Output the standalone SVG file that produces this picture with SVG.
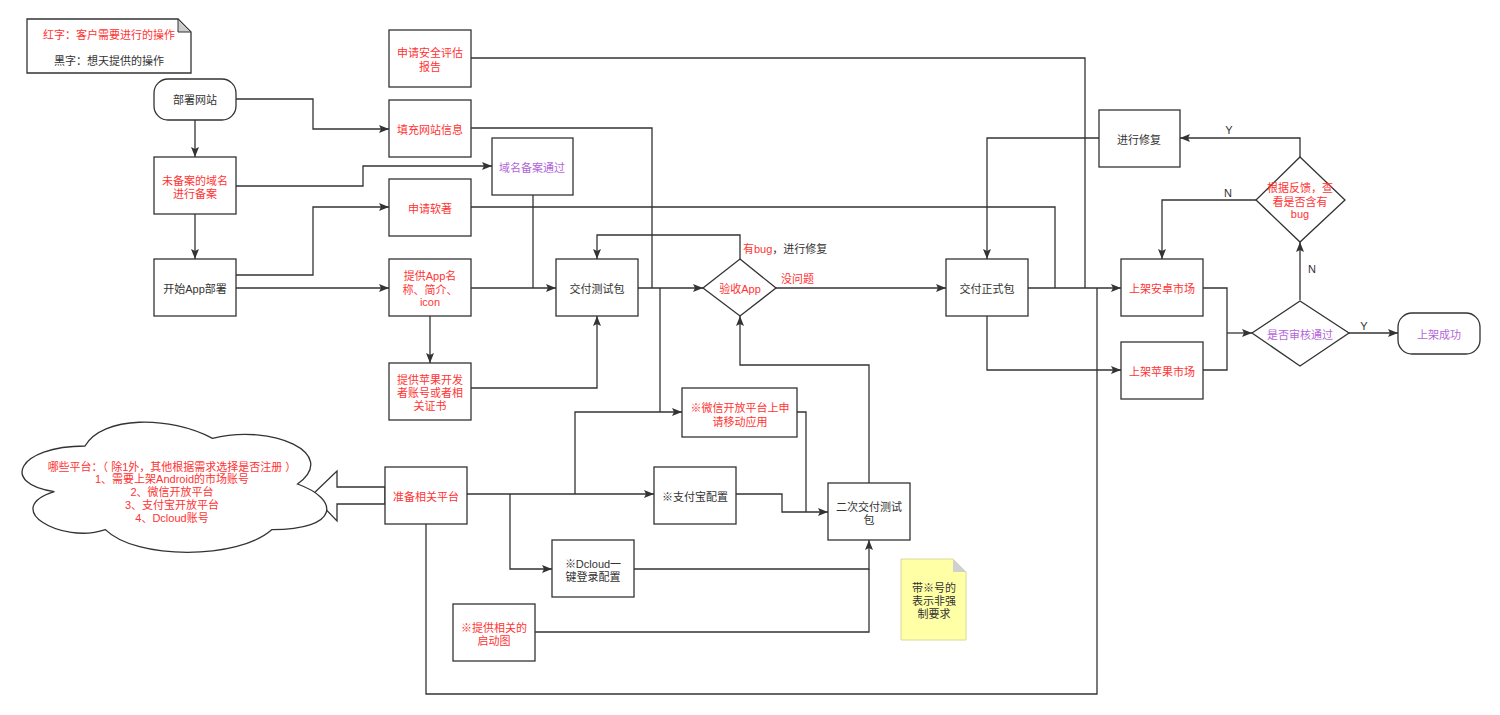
<svg xmlns="http://www.w3.org/2000/svg" width="1500" height="715" viewBox="0 0 1500 715">
<defs>
<marker id="ah" markerUnits="userSpaceOnUse" markerWidth="11" markerHeight="9" refX="10" refY="4" orient="auto">
<path d="M0,0 L10,4 L0,8 L2,4 Z" fill="#333"/>
</marker>
<style>
.box{fill:#fff;stroke:#333;stroke-width:1.3}
.c{fill:none;stroke:#333;stroke-width:1.3}
.a{marker-end:url(#ah)}
.t{font-family:"Liberation Sans","Noto Sans CJK SC",sans-serif;font-size:11px;text-anchor:middle;dominant-baseline:central}
.l{font-family:"Liberation Sans","Noto Sans CJK SC",sans-serif;font-size:11px;dominant-baseline:central}
.red{fill:#FF3333}
.dk{fill:#333}
.pur{fill:#B266D9}
</style>
</defs>
<rect width="1500" height="715" fill="#fff"/>

<g id="connectors">
<path class="c a" d="M236,99 H313 V129 H389"/>
<path class="c a" d="M236,186 H363 V166 H492"/>
<path class="c a" d="M236,275 H313 V207 H389"/>
<path class="c a" d="M236,288 H389"/>
<path class="c a" d="M195,120 V157"/>
<path class="c a" d="M195,214 V259"/>
<path class="c a" d="M430,316 V363"/>
<path class="c a" d="M471,288 H556"/>
<path class="c" d="M533,195 V288"/>
<path class="c a" d="M471,388 H597 V316"/>
<path class="c" d="M471,128 H652 V288"/>
<path class="c a" d="M638,288 H703"/>
<path class="c a" d="M740,259 V235 H597 V259"/>
<path class="c a" d="M776,288 H946"/>
<path class="c" d="M471,58 H1085 V288"/>
<path class="c" d="M471,207 H1055 V288"/>
<path class="c a" d="M1099,138 H987 V259"/>
<path class="c a" d="M1028,288 H1121"/>
<path class="c a" d="M987,316 V370 H1121"/>
<path class="c" d="M426,524 V694 H1097 V288"/>
<path class="c" d="M1203,288 H1227 V370 H1203"/>
<path class="c a" d="M1227,333 H1252"/>
<path class="c a" d="M1300,300 V242"/>
<path class="c a" d="M1349,333 H1398"/>
<path class="c a" d="M1300,157 V138 H1180"/>
<path class="c a" d="M1256,200 H1162 V259"/>
<path class="c a" d="M467,494 H654"/>
<path class="c a" d="M575,494 V412 H682"/>
<path class="c" d="M660,288 V412"/>
<path class="c a" d="M510,494 V569 H552"/>
<path class="c a" d="M736,494 H782 V512 H828"/>
<path class="c" d="M797,412 H806 V512"/>
<path class="c a" d="M634,569 H869 V540"/>
<path class="c" d="M535,632 H869 V569"/>
<path class="c a" d="M869,483 V365 H740 V316"/>
<polygon points="385,487 337,487 337,471 312,495 337,521 337,504 385,504" fill="#fff" stroke="#333" stroke-width="1.3"/>
<text class="l" x="743" y="249"><tspan class="red">有bug</tspan><tspan class="dk">，进行修复</tspan></text>
<text class="l red" x="781" y="279">没问题</text>
<text class="t dk" x="1229" y="130">Y</text>
<text class="t dk" x="1228" y="193">N</text>
<text class="t dk" x="1312" y="269">N</text>
<text class="t dk" x="1364" y="326">Y</text>
</g>

<g id="legend">
<path d="M27,19 H178 L191,32 V73 H27 Z" fill="#fff" stroke="#333" stroke-width="1.3"/>
<path d="M178,19 V32 H191 Z" fill="#ccc" stroke="#333" stroke-width="1"/>
<text class="t red" x="109" y="35">红字：客户需要进行的操作</text>
<text class="t dk" x="109" y="61">黑字：想天提供的操作</text>
</g>

<g id="n-deploy-site">
<rect class="box" x="154" y="79" width="82" height="41" rx="14"/>
<text class="t dk" x="195" y="100">部署网站</text>
</g>
<g id="n-unrecorded">
<rect class="box" x="154" y="157" width="82" height="57"/>
<text class="t red" x="195" y="181">未备案的域名</text>
<text class="t red" x="195" y="194">进行备案</text>
</g>
<g id="n-start-app">
<rect class="box" x="154" y="259" width="82" height="57"/>
<text class="t dk" x="195" y="289">开始App部署</text>
</g>
<g id="n-security">
<rect class="box" x="389" y="30" width="82" height="57"/>
<text class="t red" x="430" y="53">申请安全评估</text>
<text class="t red" x="430" y="67">报告</text>
</g>
<g id="n-fill-site">
<rect class="box" x="389" y="100" width="82" height="57"/>
<text class="t red" x="430" y="130">填充网站信息</text>
</g>
<g id="n-domain-ok">
<rect class="box" x="492" y="138" width="81" height="57"/>
<text class="t pur" x="532" y="168">域名备案通过</text>
</g>
<g id="n-copyright">
<rect class="box" x="389" y="179" width="82" height="57"/>
<text class="t red" x="430" y="209">申请软著</text>
</g>
<g id="n-app-info">
<rect class="box" x="389" y="259" width="82" height="57"/>
<text class="t red" x="430" y="276">提供App名</text>
<text class="t red" x="430" y="290">称、简介、</text>
<text class="t red" x="430" y="302">icon</text>
</g>
<g id="n-apple-dev">
<rect class="box" x="389" y="363" width="82" height="57"/>
<text class="t red" x="430" y="380">提供苹果开发</text>
<text class="t red" x="430" y="393">者账号或者相</text>
<text class="t red" x="430" y="406">关证书</text>
</g>
<g id="n-test-pkg">
<rect class="box" x="556" y="259" width="82" height="57"/>
<text class="t dk" x="597" y="289">交付测试包</text>
</g>
<g id="n-accept">
<polygon class="box" points="740,259 776,288 740,316 703,288"/>
<text class="t red" x="740" y="289">验收App</text>
</g>
<g id="n-release-pkg">
<rect class="box" x="946" y="259" width="82" height="57"/>
<text class="t dk" x="987" y="289">交付正式包</text>
</g>
<g id="n-fix">
<rect class="box" x="1099" y="110" width="81" height="57"/>
<text class="t dk" x="1139" y="140">进行修复</text>
</g>
<g id="n-feedback">
<polygon class="box" points="1300,157 1345,200 1300,242 1256,200"/>
<text class="t red" x="1300" y="188">根据反馈，查</text>
<text class="t red" x="1300" y="202">看是否含有</text>
<text class="t red" x="1300" y="214">bug</text>
</g>
<g id="n-android">
<rect class="box" x="1121" y="259" width="82" height="57"/>
<text class="t red" x="1162" y="289">上架安卓市场</text>
</g>
<g id="n-apple">
<rect class="box" x="1121" y="342" width="82" height="57"/>
<text class="t red" x="1162" y="372">上架苹果市场</text>
</g>
<g id="n-review">
<polygon class="box" points="1300,301 1349,333 1300,366 1252,333"/>
<text class="t pur" x="1300" y="335">是否审核通过</text>
</g>
<g id="n-success">
<rect class="box" x="1398" y="313" width="82" height="41" rx="14"/>
<text class="t pur" x="1439" y="335">上架成功</text>
</g>
<g id="n-wechat">
<rect class="box" x="682" y="388" width="115" height="49"/>
<text class="t red" x="740" y="408">※微信开放平台上申</text>
<text class="t red" x="740" y="422">请移动应用</text>
</g>
<g id="n-platform">
<rect class="box" x="385" y="467" width="82" height="57"/>
<text class="t red" x="426" y="497">准备相关平台</text>
</g>
<g id="n-alipay">
<rect class="box" x="654" y="467" width="82" height="57"/>
<text class="t dk" x="695" y="497">※支付宝配置</text>
</g>
<g id="n-dcloud">
<rect class="box" x="552" y="540" width="82" height="57"/>
<text class="t dk" x="593" y="564">※Dcloud一</text>
<text class="t dk" x="593" y="577">键登录配置</text>
</g>
<g id="n-splash">
<rect class="box" x="453" y="604" width="82" height="57"/>
<text class="t red" x="494" y="628">※提供相关的</text>
<text class="t red" x="494" y="641">启动图</text>
</g>
<g id="n-second-test">
<rect class="box" x="828" y="483" width="82" height="57"/>
<text class="t dk" x="869" y="507">二次交付测试</text>
<text class="t dk" x="869" y="520">包</text>
</g>
<g id="n-note">
<path d="M901,559 H953 L966,572 V640 H901 Z" fill="#FFFFA6" stroke="#D9D99A" stroke-width="1"/>
<path d="M953,559 V572 H966 Z" fill="#D0D0D0"/>
<text class="t dk" x="934" y="588">带※号的</text>
<text class="t dk" x="934" y="601">表示非强</text>
<text class="t dk" x="934" y="614">制要求</text>
</g>
<g id="n-cloud">
<path d="M85,446 C17,446 0,484 54.4,491.6 C0,508.3 61.2,544.8 105.4,529.6 C136,560 238,560 272,529.6 C340,529.6 340,499.2 297.5,484 C340,453.6 272,423.2 212.5,438.4 C170,415.6 102,415.6 85,446 Z" fill="#fff" stroke="#333" stroke-width="1.3"/>
<text class="t red" x="172" y="467">哪些平台：（ 除1外，其他根据需求选择是否注册 ）</text>
<text class="t red" x="172" y="479">1、需要上架Android的市场账号</text>
<text class="t red" x="172" y="492">2、微信开放平台</text>
<text class="t red" x="172" y="505">3、支付宝开放平台</text>
<text class="t red" x="172" y="518">4、Dcloud账号</text>
</g>
</svg>
